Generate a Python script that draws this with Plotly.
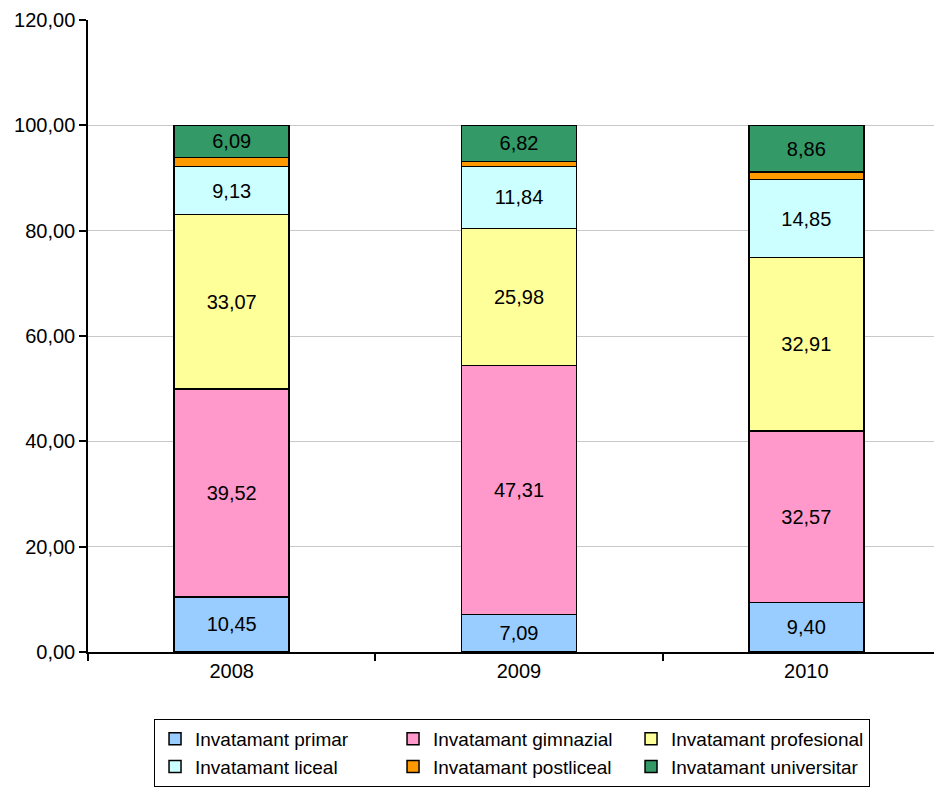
import plotly.graph_objects as go

years = ["2008", "2009", "2010"]
series_names = ["Invatamant primar", "Invatamant gimnazial", "Invatamant profesional",
                "Invatamant liceal", "Invatamant postliceal", "Invatamant universitar"]
primar = [10.45, 7.09, 9.40]
gimnazial = [39.52, 47.31, 32.57]
profesional = [33.07, 25.98, 32.91]
liceal = [9.13, 11.84, 14.85]
postliceal = [1.74, 0.96, 1.41]
universitar = [6.09, 6.82, 8.86]
colors = ["#99CCFF", "#FF99CC", "#FFFF99", "#CCFFFF", "#FF9900", "#339966"]
show_labels = [True, True, True, True, False, True]

values = [primar, gimnazial, profesional, liceal, postliceal, universitar]
FONT = "Liberation Sans, Arial, sans-serif"
FS = 20

fig = go.Figure()
for name, vals, col, lab in zip(series_names, values, colors, show_labels):
    fig.add_trace(go.Bar(
        x=years, y=vals, name=name, width=0.4,
        marker=dict(color=col, line=dict(color="#000000", width=1.5)),
        texttemplate="%{y:.2f}" if lab else "",
        textposition="inside", insidetextanchor="middle",
        constraintext="none",
        textfont=dict(family=FONT, size=FS, color="#000000"),
        hoverinfo="skip",
    ))

fig.update_layout(
    barmode="stack",
    width=942, height=788,
    margin=dict(l=80, r=0, t=12, b=144, autoexpand=False),
    paper_bgcolor="white", plot_bgcolor="white",
    separators=", ",
    font=dict(family=FONT, size=FS, color="#000000"),
    showlegend=True,
    legend=dict(
        orientation="h", x=0.0766, xanchor="left", y=-0.106, yanchor="top",
        bordercolor="#000000", borderwidth=1, bgcolor="white",
        entrywidth=193, entrywidthmode="pixels",
        itemwidth=30, tracegroupgap=0,
        font=dict(family=FONT, size=19, color="#000000"),
        traceorder="normal", itemclick=False,
    ),
    xaxis=dict(
        type="category", range=[-0.5, 2.5],
        showline=True, linecolor="#000000", linewidth=1.5,
        ticks="outside", ticklen=7, tickcolor="#000000", tickwidth=1.5,
        tickson="boundaries", showgrid=False,
        tickfont=dict(family=FONT, size=FS, color="#000000"),
    ),
    yaxis=dict(
        range=[0, 120], dtick=20, tickformat=".2f",
        showline=True, linecolor="#000000", linewidth=1.5,
        ticks="outside", ticklen=7, tickcolor="#000000", tickwidth=1.5,
        showgrid=True, gridcolor="#C8C8C8", gridwidth=1,
        zeroline=False,
        tickfont=dict(family=FONT, size=FS, color="#000000"),
    ),
)

fig.write_html("out.html")
